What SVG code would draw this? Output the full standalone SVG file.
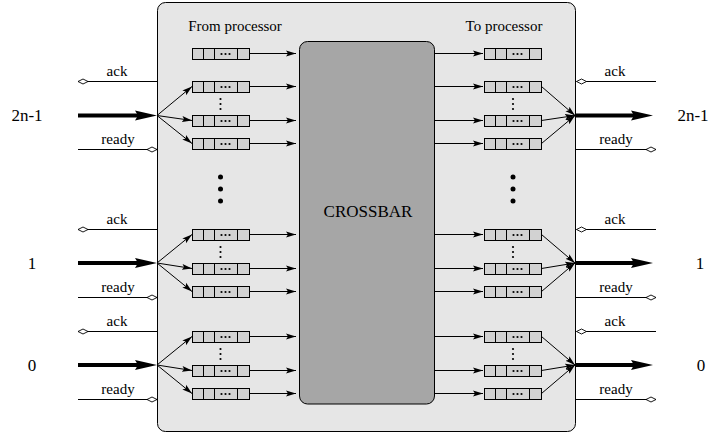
<svg xmlns="http://www.w3.org/2000/svg" width="710" height="434" viewBox="0 0 710 434">
<style>
text{font-family:"Liberation Serif","Times New Roman",serif;fill:#000}
.sm{font-size:15px;text-anchor:middle}
.lg{font-size:17px;text-anchor:middle}
.frame{fill:#e6e6e6;stroke:#000;stroke-width:1}
.xbar{fill:#a6a6a6;stroke:#000;stroke-width:1}
.cell{fill:#d2d2d2;stroke:#000;stroke-width:1}
.sep{fill:none;stroke:#000;stroke-width:1}
.a{fill:none;stroke:#000;stroke-width:1;marker-end:url(#ah)}
.sig{fill:none;stroke:#000;stroke-width:1;marker-end:url(#oh)}
.thick{fill:none;stroke:#000;stroke-width:4;marker-end:url(#th)}
.dot{fill:#000}
</style>
<defs>
<marker id="ah" markerUnits="userSpaceOnUse" markerWidth="11" markerHeight="8" viewBox="0 -4 11 8" refX="10" refY="0" orient="auto"><path d="M0,-3 L10,0 L0,3 L2,0 Z" fill="#000"/></marker>
<marker id="oh" markerUnits="userSpaceOnUse" markerWidth="12" markerHeight="8" viewBox="-1 -4 12 8" refX="10" refY="0" orient="auto"><path d="M0,0 L5,-2.5 L10,0 L5,2.5 Z" fill="#fff" stroke="#000" stroke-width="0.9"/></marker>
<marker id="th" markerUnits="userSpaceOnUse" markerWidth="23" markerHeight="12" viewBox="0 -6 23 12" refX="3" refY="0" orient="auto"><path d="M0,-5 L22,0 L0,5 L3,0 Z" fill="#000"/></marker>
<g id="buf">
<rect class="cell" x="0.5" y="0.5" width="57" height="11"/>
<path class="sep" d="M11.5,0.5V11.5M22.5,0.5V11.5M45.5,0.5V11.5"/>
<circle class="dot" cx="29.5" cy="6" r="1.1"/>
<circle class="dot" cx="33.5" cy="6" r="1.1"/>
<circle class="dot" cx="37.5" cy="6" r="1.1"/>
</g>
<g id="vdots">
<circle class="dot" cx="0" cy="0" r="1.1"/>
<circle class="dot" cx="0" cy="5" r="1.1"/>
<circle class="dot" cx="0" cy="10" r="1.1"/>
</g>
<g id="bigdots">
<circle class="dot" cx="0" cy="0" r="2.5"/>
<circle class="dot" cx="0" cy="12" r="2.5"/>
<circle class="dot" cx="0" cy="24" r="2.5"/>
</g>
</defs>

<g id="switch">
<rect class="frame" x="157.5" y="2.5" width="418" height="429" rx="8"/>
<text class="sm" x="235" y="31">From processor</text>
<text class="sm" x="504" y="31">To processor</text>
<use href="#vdots" x="220.5" y="99"/>
<use href="#vdots" x="513" y="99"/>
<use href="#bigdots" x="220.5" y="177"/>
<use href="#bigdots" x="513" y="177"/>
<use href="#vdots" x="220.5" y="247"/>
<use href="#vdots" x="513" y="247"/>
<use href="#vdots" x="220.5" y="349"/>
<use href="#vdots" x="513" y="349"/>
</g>

<g id="crossbar">
<rect class="xbar" x="299.5" y="41.5" width="135" height="362.5" rx="8"/>
<text class="lg" x="368" y="217">CROSSBAR</text>
</g>

<g id="in-2n-1-x"><use href="#buf" x="192" y="48"/></g>
<g id="in-2n-1-a"><use href="#buf" x="192" y="81"/></g>
<g id="in-2n-1-b"><use href="#buf" x="192" y="115"/></g>
<g id="in-2n-1-c"><use href="#buf" x="192" y="138"/></g>
<g id="in-1-a"><use href="#buf" x="192" y="229"/></g>
<g id="in-1-b"><use href="#buf" x="192" y="263"/></g>
<g id="in-1-c"><use href="#buf" x="192" y="286"/></g>
<g id="in-0-a"><use href="#buf" x="192" y="331"/></g>
<g id="in-0-b"><use href="#buf" x="192" y="365"/></g>
<g id="in-0-c"><use href="#buf" x="192" y="388"/></g>

<g id="out-2n-1-x"><use href="#buf" x="484" y="48"/></g>
<g id="out-2n-1-a"><use href="#buf" x="484" y="81"/></g>
<g id="out-2n-1-b"><use href="#buf" x="484" y="115"/></g>
<g id="out-2n-1-c"><use href="#buf" x="484" y="138"/></g>
<g id="out-1-a"><use href="#buf" x="484" y="229"/></g>
<g id="out-1-b"><use href="#buf" x="484" y="263"/></g>
<g id="out-1-c"><use href="#buf" x="484" y="286"/></g>
<g id="out-0-a"><use href="#buf" x="484" y="331"/></g>
<g id="out-0-b"><use href="#buf" x="484" y="365"/></g>
<g id="out-0-c"><use href="#buf" x="484" y="388"/></g>

<g id="port-in-2n-1"><text class="lg" x="27" y="120.5">2n-1</text></g>
<g id="port-in-1"><text class="lg" x="32" y="268.5">1</text></g>
<g id="port-in-0"><text class="lg" x="32" y="370.5">0</text></g>
<g id="port-out-2n-1"><text class="lg" x="693" y="120.5">2n-1</text></g>
<g id="port-out-1"><text class="lg" x="700" y="268.5">1</text></g>
<g id="port-out-0"><text class="lg" x="701" y="370.5">0</text></g>

<g id="connectors">
<!-- signal labels -->
<text class="sm" x="117" y="76">ack</text>
<text class="sm" x="118" y="144">ready</text>
<text class="sm" x="117" y="224">ack</text>
<text class="sm" x="118" y="292">ready</text>
<text class="sm" x="117" y="326">ack</text>
<text class="sm" x="118" y="394">ready</text>
<text class="sm" x="615" y="76">ack</text>
<text class="sm" x="616" y="144">ready</text>
<text class="sm" x="615" y="224">ack</text>
<text class="sm" x="616" y="292">ready</text>
<text class="sm" x="615" y="326">ack</text>
<text class="sm" x="616" y="394">ready</text>

<!-- ack / ready / data, port 2n-1 -->
<path class="sig" d="M157,81.5H78"/>
<path class="thick" d="M78,115.5H138"/>
<path class="sig" d="M78,149.5H157"/>
<path class="sig" d="M656,81.5H576.5"/>
<path class="thick" d="M576,115.5H634"/>
<path class="sig" d="M576,149.5H656"/>
<!-- port 1 -->
<path class="sig" d="M157,229.5H78"/>
<path class="thick" d="M78,263H138"/>
<path class="sig" d="M78,297.5H157"/>
<path class="sig" d="M656,229.5H576.5"/>
<path class="thick" d="M576,263H634"/>
<path class="sig" d="M576,297.5H656"/>
<!-- port 0 -->
<path class="sig" d="M157,331.5H78"/>
<path class="thick" d="M78,365H138"/>
<path class="sig" d="M78,399.5H157"/>
<path class="sig" d="M656,331.5H576.5"/>
<path class="thick" d="M576,365H634"/>
<path class="sig" d="M576,399.5H656"/>

<!-- fan-out into input buffers -->
<path class="a" d="M157,115.5L192,86.5"/>
<path class="a" d="M157,115.5L192,120.5"/>
<path class="a" d="M157,115.5L192,143.5"/>
<path class="a" d="M157,263L192,234.5"/>
<path class="a" d="M157,263L192,268.5"/>
<path class="a" d="M157,263L192,291.5"/>
<path class="a" d="M157,365L192,336.5"/>
<path class="a" d="M157,365L192,370.5"/>
<path class="a" d="M157,365L192,393.5"/>

<!-- input buffers to crossbar -->
<path class="a" d="M249.5,53.5H296"/>
<path class="a" d="M249.5,86.5H296"/>
<path class="a" d="M249.5,120.5H296"/>
<path class="a" d="M249.5,143.5H296"/>
<path class="a" d="M249.5,234.5H296"/>
<path class="a" d="M249.5,268.5H296"/>
<path class="a" d="M249.5,291.5H296"/>
<path class="a" d="M249.5,336.5H296"/>
<path class="a" d="M249.5,370.5H296"/>
<path class="a" d="M249.5,393.5H296"/>

<!-- crossbar to output buffers -->
<path class="a" d="M435,53.5H483"/>
<path class="a" d="M435,86.5H483"/>
<path class="a" d="M435,120.5H483"/>
<path class="a" d="M435,143.5H483"/>
<path class="a" d="M435,234.5H483"/>
<path class="a" d="M435,268.5H483"/>
<path class="a" d="M435,291.5H483"/>
<path class="a" d="M435,336.5H483"/>
<path class="a" d="M435,370.5H483"/>
<path class="a" d="M435,393.5H483"/>

<!-- output buffers converge to output port -->
<path class="a" d="M541.5,86.5L575,115.5"/>
<path class="a" d="M541.5,120.5L575,115.5"/>
<path class="a" d="M541.5,143.5L575,115.5"/>
<path class="a" d="M541.5,234.5L575,263"/>
<path class="a" d="M541.5,268.5L575,263"/>
<path class="a" d="M541.5,291.5L575,263"/>
<path class="a" d="M541.5,336.5L575,365"/>
<path class="a" d="M541.5,370.5L575,365"/>
<path class="a" d="M541.5,393.5L575,365"/>
</g>
</svg>
